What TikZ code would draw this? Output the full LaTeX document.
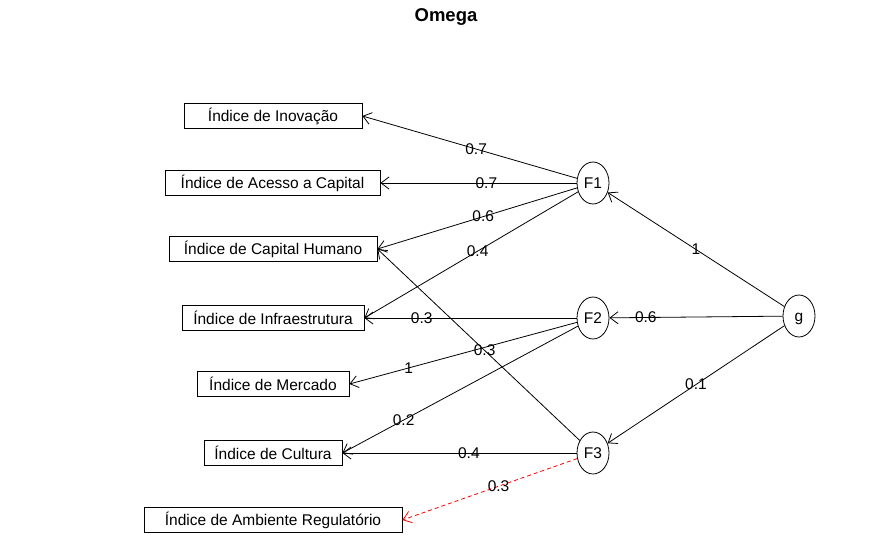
\documentclass[tikz,border=0pt]{standalone}
\usepackage{fontspec}
\setmainfont{Liberation Sans}
\usetikzlibrary{shapes.geometric,arrows.meta}

\begin{document}
\begin{tikzpicture}[x=1pt, y=-1pt, font=\fontsize{15.5}{18}\selectfont,
    ind/.style={rectangle, draw, inner xsep=2pt, inner ysep=0pt, minimum height=25pt, minimum width=#1},
    lat/.style={ellipse, draw, inner sep=0pt, minimum width=32pt, minimum height=42pt,
      text height=11pt, text depth=0pt},
    >={Straight Barb[length=8pt,width=12pt]}, line width=0.8pt]
  \useasboundingbox (0,0) rectangle (893,548);
  \node[font=\bfseries\fontsize{18.5}{22}\selectfont] (title) at (446,17) {Omega};
  % indicators
  \node[ind=178pt] (inov) at (273,116) {Índice de Inovação};
  \node[ind=215pt] (acap) at (272.5,183) {Índice de Acesso a Capital};
  \node[ind=208pt] (chum) at (273,249) {Índice de Capital Humano};
  \node[ind=182pt] (infr) at (273,318) {Índice de Infraestrutura};
  \node[ind=152pt] (merc) at (273,384) {Índice de Mercado};
  \node[ind=138pt] (cult) at (273,453) {Índice de Cultura};
  \node[ind=258pt] (areg) at (273,520) {Índice de Ambiente Regulatório};
  % factors
  \node[lat] (F1) at (593,183) {F1};
  \node[lat] (F2) at (593,318) {F2};
  \node[lat] (F3) at (593,453) {F3};
  \node[lat] (g) at (799,316) {g};
  % loadings
  \draw[->] (F1) -- node[pos=.47] {0.7} (inov.east);
  \draw[->] (F1) -- node[pos=.46] {0.7} (acap.east);
  \draw[->] (F1) -- node[pos=.47] {0.6} (chum.east);
  \draw[->] (F1) -- node[pos=.47] {0.4} (infr.east);
  \draw[->] (F2) -- node[pos=.73] {0.3} (infr.east);
  \draw[->] (F2) -- node[pos=.74] {1} (merc.east);
  \draw[->] (F2) -- node[pos=.74] {0.2} (cult.east);
  \draw[->] (F3) -- node[pos=.47] {0.3} (chum.east);
  \draw[->] (F3) -- node[pos=.46] {0.4} (cult.east);
  \draw[->, red, dash pattern=on 4pt off 3pt] (F3) -- node[pos=.45, black] {0.3} (areg.east);
  \draw[->] (g) -- node[pos=.5] {1} (F1);
  \draw[->] (g) -- node[pos=.79] {0.6} (F2);
  \draw[->] (g) -- node[pos=.5] {0.1} (F3);
\end{tikzpicture}
\end{document}
